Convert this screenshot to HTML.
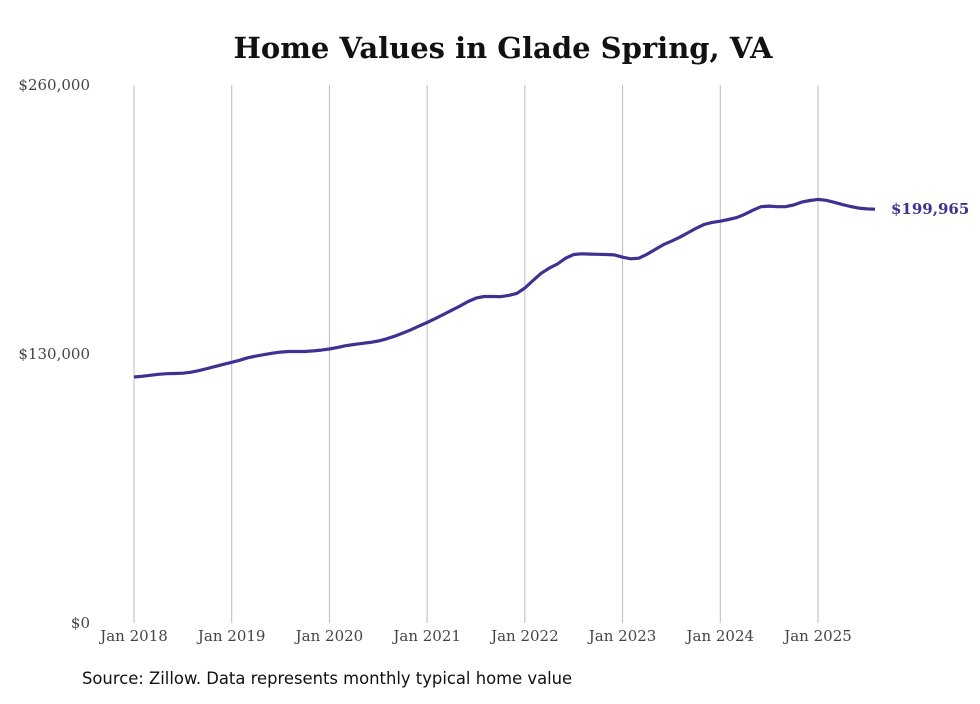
<!DOCTYPE html>
<html><head><meta charset="utf-8"><style>
body{margin:0;background:#fff;width:980px;height:699px;overflow:hidden}
svg text{font-family:"DejaVu Serif","Liberation Serif",serif}
</style></head><body>
<svg width="980" height="699" xmlns="http://www.w3.org/2000/svg">
<text x="503" y="58" text-anchor="middle" font-size="29" font-weight="bold" fill="#111">Home Values in Glade Spring, VA</text>
<g id="grid"></g><g id="yaxis"></g><g id="xaxis"></g><g id="series"></g>
<text x="82" y="684" font-size="16.4" fill="#111" style="font-family:'DejaVu Sans','Liberation Sans',sans-serif">Source: Zillow. Data represents monthly typical home value</text>
</svg>
<script>
const yTicks=[0,130000,260000];
const yTickLabels=["$0","$130,000","$260,000"];
const xYears=[2018,2019,2020,2021,2022,2023,2024,2025];
const xTickLabels=["Jan 2018","Jan 2019","Jan 2020","Jan 2021","Jan 2022","Jan 2023","Jan 2024","Jan 2025"];
const values=[
118900,119200,119700,120200,120500,120600,120700,121200,122000,123000,124000,125000,
126000,127000,128200,129000,129700,130400,130900,131200,131200,131200,131500,131900,
132400,133200,134000,134600,135100,135600,136300,137300,138600,140100,141700,143500,
145200,147100,149100,151100,153100,155300,157000,157800,157800,157700,158300,159300,
161900,165500,169000,171500,173500,176300,178100,178400,178300,178200,178100,177900,
176800,176000,176300,178200,180500,182800,184500,186400,188500,190700,192600,193600,
194200,195000,195900,197500,199500,201200,201500,201200,201200,202000,203400,204200,
204700,204300,203300,202200,201300,200500,200100,199965];
const lastLabel="$199,965";
const NS="http://www.w3.org/2000/svg";
const y=v=>623-v/260000*538;
const x=m=>134+m*(684/84);
function mk(tag,attrs,parent,txt){const e=document.createElementNS(NS,tag);for(const k in attrs)e.setAttribute(k,attrs[k]);if(txt!==undefined)e.textContent=txt;document.getElementById(parent).appendChild(e);return e;}
xYears.forEach((yr,i)=>{
 const xx=x((yr-2018)*12);
 const l=mk('line',{x1:xx,x2:xx,y1:85,y2:623,stroke:'#bbb','stroke-width':1},'grid');
 
 
 const t=mk('text',{x:xx,y:641,'text-anchor':'middle','font-size':15,fill:'#444'},'xaxis',xTickLabels[i]);
 
 
});
yTicks.forEach((v,i)=>{
 const t=mk('text',{x:90,y:y(v)+5,'text-anchor':'end','font-size':15,fill:'#444'},'yaxis',yTickLabels[i]);
 
 
});
const d=values.map((v,i)=>(i?'L':'M')+x(i).toFixed(1)+','+y(v).toFixed(1)).join(' ');
const p=mk('path',{d:d,fill:'none',stroke:'#3d3291','stroke-width':3.2,'stroke-linejoin':'round'},'series');


const n=values.length-1;
const lt=mk('text',{x:x(n)+16,y:y(values[n])+5,'font-size':15,'font-weight':'bold',fill:'#3d3291'},'series',lastLabel);


</script>
</body></html>
